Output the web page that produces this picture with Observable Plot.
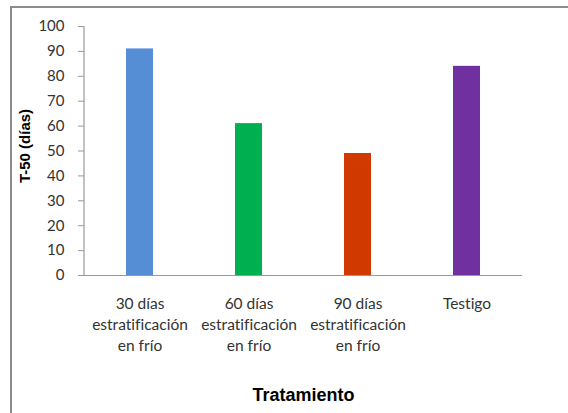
<!DOCTYPE html>
<html>
<head>
<meta charset="utf-8">
<script src="https://cdn.jsdelivr.net/npm/d3@7"></script>
<script src="https://cdn.jsdelivr.net/npm/@observablehq/plot@0.6"></script>
<style>
  html, body { margin: 0; padding: 0; background: #fff; }
  #wrap { position: relative; width: 568px; height: 413px; overflow: hidden; }
  #frame { position: absolute; left: 10px; top: 6px; width: 620px; height: 480px;
           border-left: 2px solid #8c8c8c; border-top: 2px solid #8c8c8c; }
  #chart { position: absolute; left: 0; top: 0; }
  #chart svg text { font-variant-ligatures: none; }
</style>
</head>
<body>
<div id="wrap"><div id="frame"></div><div id="chart"></div></div>
<script>
// T-50 (días) por tratamiento
const tratamientos = [
  "30 días\nestratificación\nen frío",
  "60 días\nestratificación\nen frío",
  "90 días\nestratificación\nen frío",
  "Testigo"
];
const t50 = [91, 61, 49, 84];
const colores = ["#558ED5", "#00B050", "#D03A00", "#7030A0"];
const yTicks = [0, 10, 20, 30, 40, 50, 60, 70, 80, 90, 100];

const data = tratamientos.map((t, i) => ({tratamiento: t, valor: t50[i], color: colores[i]}));

const font = "Lato, 'Open Sans', sans-serif";
const boldFont = "'Liberation Sans', Arial, sans-serif";

// vertical axis line along the left edge of the plotting area
function yAxisLine(index, scales, values, dims) {
  const line = document.createElementNS("http://www.w3.org/2000/svg", "line");
  line.setAttribute("x1", dims.marginLeft);
  line.setAttribute("x2", dims.marginLeft);
  line.setAttribute("y1", dims.marginTop);
  line.setAttribute("y2", dims.height - dims.marginBottom);
  line.setAttribute("stroke", "#999");
  line.setAttribute("stroke-width", 1.2);
  return line;
}

const chart = Plot.plot({
  width: 568,
  height: 413,
  marginLeft: 84,
  marginRight: 46,
  marginTop: 26,
  marginBottom: 138,
  style: {background: "transparent", fontFamily: font, fontSize: "15px", color: "#333"},
  x: {domain: tratamientos, paddingInner: 0.75, paddingOuter: 0.375, label: null},
  y: {domain: [0, 100], label: null},
  marks: [
    Plot.barY(data, {x: "tratamiento", y: "valor", fill: "color"}),
    Plot.ruleY([0], {stroke: "#999", strokeWidth: 1.2}),
    Plot.axisY({ticks: yTicks, tickSize: 6, tickPadding: 14, stroke: "#999",
                fontSize: 15, fill: "#333", label: null}),
    yAxisLine,
    Plot.axisX({tickSize: 0, tickPadding: 18, fontSize: 15.5, lineHeight: 1.38,
                fill: "#333", label: null, textAnchor: "middle"}),
    Plot.text(["T-50 (días)"], {frameAnchor: "left", textAnchor: "middle", rotate: -90,
                dx: -59, dy: -5,
                fontWeight: "bold", fontFamily: boldFont, fontSize: 15, fill: "#000"}),
    Plot.text(["Tratamiento"], {frameAnchor: "bottom", dy: 125,
                fontWeight: "bold", fontFamily: boldFont, fontSize: 18, fill: "#000"})
  ]
});
document.getElementById("chart").appendChild(chart);
</script>
</body>
</html>
